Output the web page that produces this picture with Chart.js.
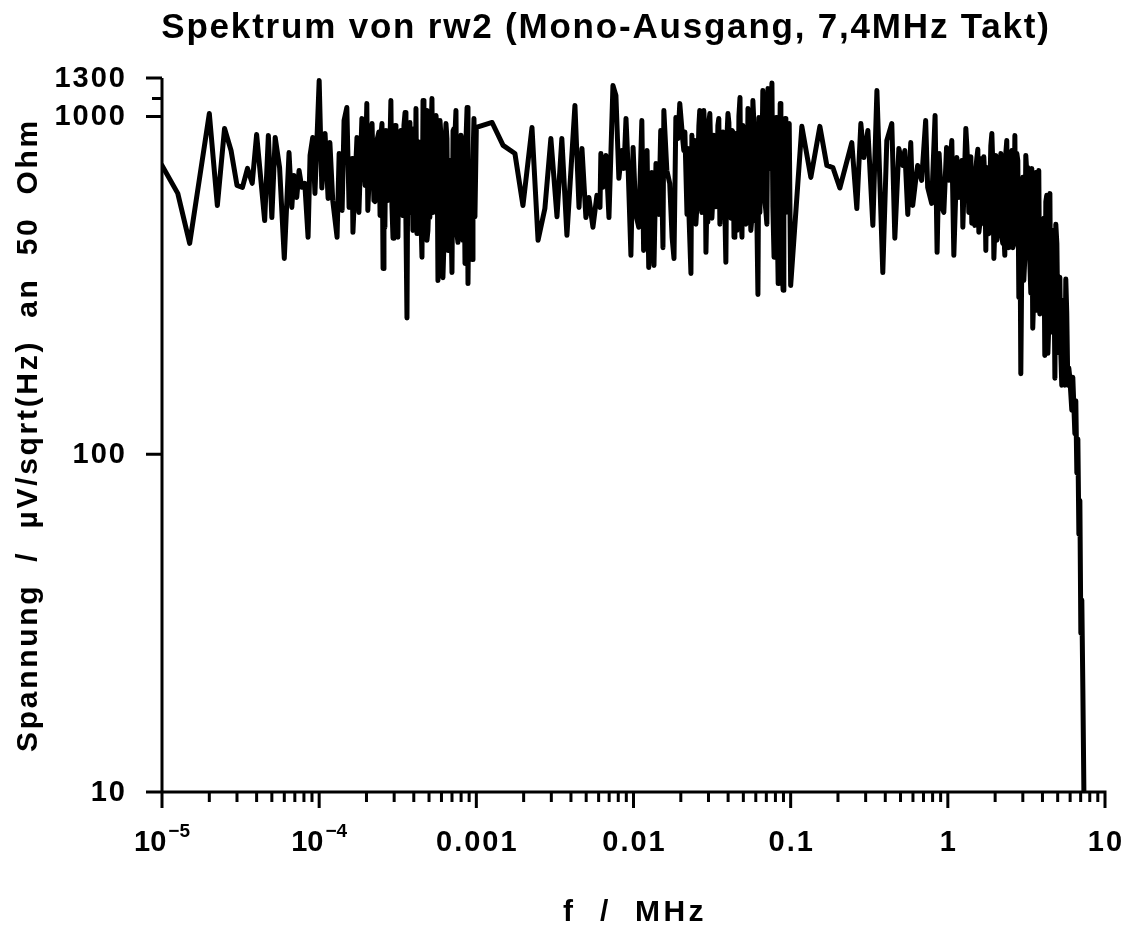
<!DOCTYPE html>
<html>
<head>
<meta charset="utf-8">
<title>Spektrum von rw2</title>
<script src="https://cdn.jsdelivr.net/npm/chart.js@4/dist/chart.umd.min.js"></script>
<style>
  html, body { margin: 0; padding: 0; background: #fff; }
  #wrap { width: 1128px; height: 931px; }
</style>
</head>
<body>
<div id="wrap"><canvas id="spectrum" width="1128" height="931"></canvas></div>
<script>
// Spectrum values (f in MHz, voltage density in uV/sqrt(Hz))

// 10 Hz .. 100 Hz
const freqA = [1.00e-5, 1.26e-5, 1.50e-5, 2.00e-5, 2.25e-5, 2.50e-5, 2.75e-5, 3.00e-5, 3.25e-5, 3.50e-5,
  3.75e-5, 4.00e-5, 4.50e-5, 4.75e-5, 5.00e-5, 5.25e-5, 5.60e-5, 6.00e-5, 6.43e-5, 6.70e-5,
  6.90e-5, 7.20e-5, 7.45e-5, 7.75e-5, 8.10e-5, 8.50e-5, 8.75e-5, 9.10e-5, 9.40e-5];
const voltA = [716, 592, 421, 1020, 545, 922, 793, 625, 617, 702,
  634, 885, 492, 879, 502, 867, 706, 380, 782, 538,
  669, 576, 692, 617, 634, 439, 767, 867, 592];

// 100 Hz .. 1 kHz
const freqB = [1.00e-4, 1.04e-4, 1.09e-4, 1.14e-4, 1.17e-4, 1.22e-4, 1.30e-4, 1.34e-4, 1.40e-4, 1.44e-4,
  1.50e-4, 1.55e-4, 1.62e-4, 1.64e-4, 1.74e-4, 1.79e-4, 1.87e-4, 1.96e-4, 2.01e-4, 2.04e-4,
  2.17e-4, 2.23e-4, 2.33e-4, 2.44e-4, 2.51e-4, 2.55e-4, 2.66e-4, 2.74e-4, 2.86e-4, 2.95e-4,
  3.04e-4, 3.17e-4, 3.31e-4, 3.41e-4, 3.52e-4, 3.62e-4, 3.78e-4, 3.95e-4, 4.13e-4, 4.25e-4,
  4.38e-4, 4.51e-4, 4.58e-4, 4.79e-4, 4.92e-4, 5.06e-4, 5.22e-4, 5.38e-4, 5.54e-4, 5.70e-4,
  5.87e-4, 6.13e-4, 6.41e-4, 6.60e-4, 6.80e-4, 7.00e-4, 7.11e-4, 7.42e-4, 7.64e-4, 7.87e-4,
  8.11e-4, 8.47e-4, 8.73e-4, 8.85e-4, 9.12e-4, 9.39e-4, 9.66e-4, 9.80e-4];
const voltB = [1278, 614, 891, 572, 837, 564, 439, 777, 527, 973,
  1063, 538, 751, 454, 867, 520, 987, 625, 1093, 527,
  953, 564, 849, 509, 953, 355, 909, 564, 1115, 436,
  941, 439, 909, 509, 1028, 253, 960, 460, 1056, 451,
  741, 383, 1115, 1042, 460, 502, 1130, 564, 1007, 327,
  973, 333, 953, 401, 741, 345, 909, 1042, 424, 647,
  837, 367, 1063, 320, 564, 377, 987, 505];
// extra bins in the dense part (2e-4 .. 1e-3)
const freqB2 = [2.105e-4, 2.265e-4, 2.40e-4, 2.62e-4, 2.82e-4, 3.125e-4, 3.27e-4, 3.73e-4, 3.89e-4, 4.07e-4,
  4.71e-4, 4.99e-4, 5.62e-4, 6.04e-4, 6.31e-4, 6.69e-4, 7.31e-4, 7.75e-4, 8.34e-4, 8.97e-4, 9.52e-4];
const voltB2 = [760, 560, 900, 470, 820, 600, 870, 520, 780, 480,
  850, 560, 900, 470, 800, 560, 880, 500, 820, 600, 740];
const freqB3 = [2.473e-4, 2.584e-4, 2.70e-4, 2.905e-4, 2.99e-4, 3.08e-4, 3.218e-4, 3.363e-4, 3.463e-4, 3.566e-4,
  3.672e-4, 3.837e-4, 4.01e-4, 4.19e-4, 4.314e-4, 4.443e-4, 4.642e-4, 4.851e-4, 5.143e-4, 5.297e-4,
  5.453e-4, 5.782e-4, 5.955e-4, 6.222e-4, 6.501e-4, 6.893e-4, 7.202e-4, 7.525e-4, 7.98e-4, 8.218e-4,
  8.586e-4, 9.24e-4];
const voltB3 = [880, 500, 760, 540, 900, 460, 820, 520, 940, 480,
  860, 560, 920, 450, 840, 500, 900, 430, 860, 520,
  940, 470, 880, 420, 860, 500, 920, 450, 880, 430,
  840, 560];

// 1 kHz .. 10 kHz
const freqC = [1.00e-3, 1.26e-3, 1.48e-3, 1.76e-3, 1.98e-3, 2.26e-3, 2.47e-3, 2.73e-3, 2.98e-3, 3.26e-3,
  3.50e-3, 3.77e-3, 4.24e-3, 4.50e-3, 4.70e-3, 4.98e-3, 5.20e-3, 5.52e-3, 5.85e-3, 6.12e-3,
  6.20e-3, 6.38e-3, 6.68e-3, 6.98e-3, 7.40e-3, 7.73e-3, 8.07e-3, 8.43e-3, 8.70e-3, 8.96e-3,
  9.24e-3, 9.63e-3, 9.94e-3];
const voltC = [928, 960, 821, 777, 545, 928, 430, 534, 861, 505,
  861, 445, 1078, 538, 804, 502, 576, 470, 584, 538,
  777, 617, 767, 502, 1235, 1154, 656, 793, 702, 987,
  706, 388, 810];

// 10 kHz .. 100 kHz
const freqD = [1.035e-2, 1.08e-2, 1.13e-2, 1.16e-2, 1.22e-2, 1.25e-2, 1.31e-2, 1.35e-2, 1.39e-2, 1.45e-2,
  1.49e-2, 1.54e-2, 1.56e-2, 1.63e-2, 1.70e-2, 1.76e-2, 1.81e-2, 1.86e-2, 1.92e-2, 1.97e-2,
  2.06e-2, 2.09e-2, 2.19e-2, 2.22e-2, 2.32e-2, 2.39e-2, 2.46e-2, 2.53e-2, 2.64e-2, 2.77e-2,
  2.80e-2, 2.89e-2, 2.97e-2, 3.06e-2, 3.20e-2, 3.29e-2, 3.39e-2, 3.49e-2, 3.65e-2, 3.76e-2,
  3.87e-2, 3.99e-2, 4.11e-2, 4.23e-2, 4.36e-2, 4.49e-2, 4.62e-2, 4.76e-2, 4.90e-2, 5.04e-2,
  5.27e-2, 5.35e-2, 5.58e-2, 5.75e-2, 5.92e-2, 6.01e-2, 6.19e-2, 6.28e-2, 6.55e-2, 6.65e-2,
  6.95e-2, 7.17e-2, 7.39e-2, 7.60e-2, 7.84e-2, 8.08e-2, 8.33e-2, 8.58e-2, 8.85e-2, 8.95e-2,
  9.22e-2, 9.50e-2, 9.79e-2, 1.00e-1];
const voltD = [513, 470, 973, 401, 793, 357, 683, 362, 726, 513,
  909, 409, 1042, 692, 634, 439, 380, 993, 861, 1093,
  849, 793, 513, 804, 343, 617, 849, 538, 1042, 592,
  1042, 396, 486, 1020, 576, 867, 576, 987, 502, 891,
  370, 1020, 549, 909, 439, 891, 482, 1138, 439, 891,
  502, 1056, 460, 1115, 492, 793, 297, 993, 692, 1194,
  527, 1210, 849, 1256, 383, 993, 320, 1093, 350, 306,
  987, 527, 953, 316];
// extra bins in the dense part (0.02 .. 0.1)
const freqD2 = [2.685e-2, 3.107e-2, 3.597e-2, 3.928e-2, 4.416e-2, 5.113e-2, 5.502e-2, 6.463e-2, 6.853e-2, 7.265e-2,
  8.17e-2, 8.665e-2, 9.32e-2];
const voltD2 = [560, 760, 620, 860, 600, 760, 580, 840, 560, 700, 560, 760, 520];
const freqD3 = [2.123e-2, 2.251e-2, 2.352e-2, 2.494e-2, 2.606e-2, 2.723e-2, 2.846e-2, 2.931e-2, 3.018e-2, 3.153e-2,
  3.247e-2, 3.344e-2, 3.443e-2, 3.545e-2, 3.705e-2, 3.815e-2, 4.045e-2, 4.165e-2, 4.289e-2, 4.548e-2,
  4.684e-2, 4.823e-2, 4.966e-2, 5.188e-2, 5.422e-2, 5.665e-2, 5.834e-2, 6.37e-2, 6.753e-2, 7.057e-2,
  7.482e-2, 7.704e-2, 7.933e-2, 8.412e-2, 9.05e-2, 9.598e-2];
const voltD3 = [900, 520, 880, 480, 940, 520, 900, 560, 960, 500,
  880, 540, 940, 480, 900, 520, 960, 500, 900, 460,
  1000, 520, 940, 480, 1000, 500, 960, 520, 1040, 480,
  1000, 540, 960, 500, 940, 560];

// 100 kHz .. 1 MHz
const freqE = [0.1178, 0.1344, 0.1534, 0.1699, 0.1856, 0.2055, 0.2449, 0.2636, 0.2796, 0.2922,
  0.310, 0.3334, 0.3538, 0.3857, 0.409, 0.4401, 0.4601, 0.4879, 0.5173, 0.5326,
  0.5562, 0.5808, 0.5977, 0.6241, 0.6424, 0.6812, 0.7227, 0.7443, 0.7893, 0.8296,
  0.8544, 0.88, 0.9157, 0.943, 0.9815];
const voltE = [935, 660, 935, 716, 706, 614, 837, 534, 953, 756,
  909, 476, 1194, 345, 849, 953, 436, 804, 716, 793,
  513, 837, 545, 647, 716, 647, 973, 617, 553, 1007,
  396, 777, 538, 520, 810];

// 1 MHz .. cut-off near the 7,4 MHz clock
const freqF = [1.015, 1.06, 1.092, 1.141, 1.175, 1.228, 1.246, 1.302, 1.34, 1.38,
  1.421, 1.442, 1.485, 1.529, 1.575, 1.645, 1.67, 1.745, 1.77, 1.85,
  1.906, 1.963, 2.02, 2.08, 2.174, 2.237, 2.304, 2.372, 2.443, 2.555,
  2.59, 2.67, 2.749, 2.83, 2.913, 3.0, 3.044, 3.134, 3.227, 3.322,
  3.42, 3.47, 3.63, 3.68, 3.79, 3.96, 4.02, 4.14, 4.26, 4.33,
  4.46, 4.59, 4.66, 4.8, 4.94, 5.01, 5.16, 5.31, 5.39, 5.55,
  5.71, 5.8, 5.97, 6.15, 6.24, 6.43, 6.52, 6.62, 6.72, 6.82,
  6.92, 7.02, 7.12, 7.23, 7.34];
const voltF = [647, 849, 388, 756, 576, 741, 470, 922, 706, 647,
  483, 692, 476, 751, 454, 751, 527, 401, 706, 604,
  891, 380, 767, 527, 777, 421, 388, 849, 409, 793,
  409, 879, 777, 291, 173, 661, 327, 767, 706, 375,
  702, 236, 683, 267, 692, 375, 470, 196, 584, 199,
  592, 327, 460, 168, 421, 249, 334, 160, 285, 160,
  262, 160, 169, 135, 169, 115, 144, 88, 111, 58,
  73, 29.5, 37, 20, 10];
// extra bins in the dense part (1.3 .. 6 MHz)
const freqF2 = [1.507, 1.621, 1.72, 1.823, 1.933, 2.05, 2.142, 2.271, 2.48, 2.708,
  2.871, 3.089, 3.275, 3.525, 3.737, 3.905, 4.08, 4.39, 4.725, 5.083,
  5.47, 5.885];
const voltF2 = [700, 480, 650, 450, 720, 430, 640, 460, 700, 420,
  620, 380, 640, 300, 560, 280, 500, 240, 400, 200,
  260, 180];
const freqF3 = [1.321, 1.36, 1.401, 1.464, 1.552, 1.598, 1.694, 1.797, 1.877, 1.991,
  2.111, 2.206, 2.339, 2.408, 2.516, 2.63, 2.788, 2.956, 3.181, 3.373,
  3.576, 3.848, 4.202, 4.52, 4.864, 5.233, 5.631];
const voltF3 = [820, 520, 760, 500, 800, 480, 760, 460, 820, 470,
  740, 440, 780, 430, 760, 420, 740, 380, 680, 300,
  660, 260, 560, 230, 480, 200, 330];

// Axis ticks
const xTickValues = [1e-5, 1e-4, 1e-3, 1e-2, 1e-1, 1, 10];
const xTickLabels = ['10^-5', '10^-4', '0.001', '0.01', '0.1', '1', '10'];
const yTickValues = [10, 100, 1000, 1300];
const yTickLabels = ['10', '100', '1000', '1300'];
const yMinorTicks = [1130];

const titleText = 'Spektrum von rw2 (Mono-Ausgang, 7,4MHz Takt)';
const xTitle = 'f  /  MHz';
const yTitle = 'Spannung  /  \u00b5V/sqrt(Hz)  an  50  Ohm';

const FONT = '"Liberation Sans", Arial, sans-serif';

const freqs = [...freqA, ...freqB, ...freqB2, ...freqB3, ...freqC, ...freqD, ...freqD2, ...freqD3,
  ...freqE, ...freqF, ...freqF2, ...freqF3];
const volts = [...voltA, ...voltB, ...voltB2, ...voltB3, ...voltC, ...voltD, ...voltD2, ...voltD3,
  ...voltE, ...voltF, ...voltF2, ...voltF3];
const points = freqs.map((f, i) => ({ x: f, y: volts[i] })).sort((p, q) => p.x - q.x);

// Axes drawn by hand, old plotter style
const plotterAxes = {
    id: 'plotterAxes',
    afterDraw(chart) {
        const { ctx, chartArea: a, scales: { x, y } } = chart;
        ctx.save();
        ctx.strokeStyle = '#000';
        ctx.fillStyle = '#000';
        ctx.lineWidth = 3;
        ctx.lineCap = 'butt';

        ctx.beginPath();
        ctx.moveTo(a.left, a.top);
        ctx.lineTo(a.left, a.bottom + 1.5);
        ctx.moveTo(a.left - 1.5, a.bottom);
        ctx.lineTo(a.right + 1.5, a.bottom);

        // x ticks: decades long, 2..9 short
        xTickValues.forEach((v, i) => {
            const px = x.getPixelForValue(v);
            ctx.moveTo(px, a.bottom);
            ctx.lineTo(px, a.bottom + 16);
            if (i < xTickValues.length - 1) {
                for (let k = 2; k <= 9; k++) {
                    const mx = x.getPixelForValue(v * k);
                    ctx.moveTo(mx, a.bottom);
                    ctx.lineTo(mx, a.bottom + 10);
                }
            }
        });

        // y ticks
        yTickValues.forEach(v => {
            const py = y.getPixelForValue(v);
            ctx.moveTo(a.left, py);
            ctx.lineTo(a.left - 16, py);
        });
        yMinorTicks.forEach(v => {
            const py = y.getPixelForValue(v);
            ctx.moveTo(a.left, py);
            ctx.lineTo(a.left - 10, py);
        });
        ctx.stroke();

        // tick labels
        ctx.letterSpacing = '2px';
        ctx.font = 'bold 29px ' + FONT;
        ctx.textBaseline = 'middle';
        ctx.textAlign = 'right';
        yTickValues.forEach((v, i) => {
            ctx.fillText(yTickLabels[i], 127, y.getPixelForValue(v) + 1);
        });

        xTickValues.forEach((v, i) => {
            const px = x.getPixelForValue(v);
            const lab = xTickLabels[i];
            if (lab.includes('^')) {
                const [base, exp] = lab.split('^');
                ctx.letterSpacing = '0px';
                ctx.font = 'bold 29px ' + FONT;
                const wb = ctx.measureText(base).width;
                ctx.font = 'bold 19px ' + FONT;
                const expTxt = exp.replace('-', '\u2212');
                const we = ctx.measureText(expTxt).width;
                const start = px - (wb + we + 2) / 2;
                ctx.textAlign = 'left';
                ctx.font = 'bold 29px ' + FONT;
                ctx.fillText(base, start, 843);
                ctx.font = 'bold 19px ' + FONT;
                ctx.fillText(expTxt, start + wb + 2, 832);
            } else {
                ctx.letterSpacing = '2px';
                ctx.textAlign = 'center';
                ctx.font = 'bold 29px ' + FONT;
                ctx.fillText(lab, px + 1, 843);
            }
        });

        // titles
        ctx.textAlign = 'center';
        ctx.letterSpacing = '1.8px';
        ctx.font = 'bold 35px ' + FONT;
        ctx.fillText(titleText, 606, 28);

        ctx.letterSpacing = '3.4px';
        ctx.font = 'bold 30px ' + FONT;
        ctx.fillText(xTitle, 635, 913);

        ctx.letterSpacing = '2.7px';
        ctx.translate(29, 435);
        ctx.rotate(-Math.PI / 2);
        ctx.fillText(yTitle, 0, 0);
        ctx.restore();
    }
};

const chart = new Chart(document.getElementById('spectrum'), {
    type: 'line',
    data: {
        datasets: [{
            label: 'rw2',
            data: points,
            borderColor: '#000',
            borderWidth: 5,
            borderJoinStyle: 'round',
            borderCapStyle: 'round',
            pointRadius: 0,
            fill: false,
            tension: 0
        }]
    },
    options: {
        responsive: false,
        animation: false,
        devicePixelRatio: 1,
        layout: { padding: { top: 78, right: 23, left: 0, bottom: 0 } },
        plugins: { legend: { display: false }, tooltip: { enabled: false }, title: { display: false } },
        scales: {
            x: {
                type: 'logarithmic',
                min: 1e-5,
                max: 10,
                ticks: { display: false },
                grid: { display: false },
                border: { display: false },
                afterFit(s) { s.height = 139; }
            },
            y: {
                type: 'logarithmic',
                min: 10,
                max: 1300,
                ticks: { display: false },
                grid: { display: false },
                border: { display: false },
                afterFit(s) { s.width = 162; }
            }
        }
    },
    plugins: [plotterAxes]
});
</script>
</body>
</html>
